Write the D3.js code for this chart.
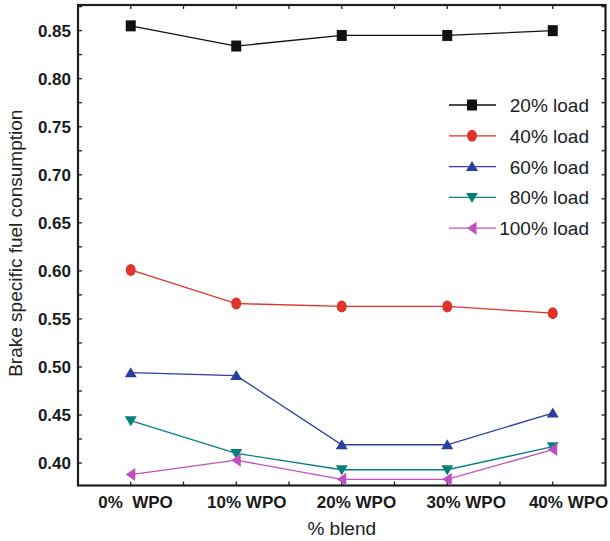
<!DOCTYPE html>
<html>
<head>
<meta charset="utf-8">
<script src="https://cdn.jsdelivr.net/npm/d3@7"></script>
<style>
  body { margin: 0; background: #fff; }
  svg { display: block; font-family: "Liberation Sans", Arial, sans-serif; }
  .tick_lab { font-size: 17px; font-weight: bold; fill: #1a1a1a; }
  .title_lab { font-size: 19px; fill: #222; }
  .leg_lab { font-size: 19px; fill: #222; }
</style>
</head>
<body>
<svg width="610" height="541"></svg>
<script>
/* donnees */
var blends = ["0%  WPO", "10% WPO", "20% WPO", "30% WPO", "40% WPO"]
var blendLabelPos = [0.045, 1.10, 2.14, 3.18, 4.15]   // ou le texte est centre (en unites d'axe)
var loads = ["20% load", "40% load", "60% load", "80% load", "100% load"]

var load20  = [0.855, 0.834, 0.845, 0.845, 0.850]
var load40  = [0.601, 0.566, 0.563, 0.563, 0.556]
var load60  = [0.494, 0.491, 0.419, 0.419, 0.452]
var load80  = [0.444, 0.410, 0.393, 0.393, 0.417]
var load100 = [0.388, 0.403, 0.383, 0.383, 0.414]

var yTicks = [0.40, 0.45, 0.50, 0.55, 0.60, 0.65, 0.70, 0.75, 0.80, 0.85]

var series = [
  {name: loads[0], values: load20,  color: "#111111", marker: "square"},
  {name: loads[1], values: load40,  color: "#e0332a", marker: "circle"},
  {name: loads[2], values: load60,  color: "#2b3f9e", marker: "up"},
  {name: loads[3], values: load80,  color: "#08807a", marker: "down"},
  {name: loads[4], values: load100, color: "#c24fbf", marker: "left"}
]

/* zone du graphique */
var plot_left = 78, plot_right = 605.5, plot_top = 5, plot_bottom = 485.5

var x = d3.scaleLinear().domain([-0.5, 4.5]).range([plot_left, plot_right])
var y = d3.scaleLinear().domain([0.3766, 0.8767]).range([plot_bottom, plot_top])

var svg = d3.select("svg")

/* petits traits des axes (vers l'interieur) */
var xTickVals = d3.range(-0.5, 4.51, 0.5)
var yTickVals = d3.range(0.40, 0.8751, 0.025)

function axis_ticks() {
    var g = svg.append("g").attr("stroke", "#222").attr("stroke-width", 1.3)
    g.selectAll(".tb").data(xTickVals).enter().append("line")
        .attr("x1", function(d){ return x(d) }).attr("x2", function(d){ return x(d) })
        .attr("y1", plot_bottom).attr("y2", plot_bottom - 4)
    g.selectAll(".tt").data(xTickVals).enter().append("line")
        .attr("x1", function(d){ return x(d) }).attr("x2", function(d){ return x(d) })
        .attr("y1", plot_top).attr("y2", plot_top + 4)
    g.selectAll(".tl").data(yTickVals).enter().append("line")
        .attr("x1", plot_left).attr("x2", plot_left + 4)
        .attr("y1", function(d){ return y(d) }).attr("y2", function(d){ return y(d) })
    g.selectAll(".tr").data(yTickVals).enter().append("line")
        .attr("x1", plot_right).attr("x2", plot_right - 4)
        .attr("y1", function(d){ return y(d) }).attr("y2", function(d){ return y(d) })
}
axis_ticks()

/* cadre */
svg.append("rect")
    .attr("x", plot_left).attr("y", plot_top)
    .attr("width", plot_right - plot_left).attr("height", plot_bottom - plot_top)
    .attr("fill", "none").attr("stroke", "#1e1e1e").attr("stroke-width", 2.2)

/* etiquettes des axes */
svg.selectAll(".ylab").data(yTicks).enter().append("text")
    .attr("class", "tick_lab")
    .attr("x", 71).attr("y", function(d){ return y(d) + 6 })
    .attr("text-anchor", "end")
    .text(function(d){ return d.toFixed(2) })

svg.selectAll(".xlab").data(blends).enter().append("text")
    .attr("class", "tick_lab")
    .attr("x", function(d, i){ return x(blendLabelPos[i]) })
    .attr("y", 508)
    .attr("text-anchor", "middle")
    .style("white-space", "pre")
    .text(function(d){ return d })

svg.append("text")
    .attr("class", "title_lab")
    .attr("x", (plot_left + plot_right) / 2).attr("y", 535)
    .attr("text-anchor", "middle")
    .text("% blend")

svg.append("text")
    .attr("class", "title_lab")
    .attr("transform", "translate(21.5," + ((plot_top + plot_bottom) / 2 - 2) + ") rotate(-90)")
    .attr("text-anchor", "middle")
    .text("Brake specific fuel consumption")

/* marqueurs */
function marker_path(type) {
    if (type == "square") return "M-5,-5.5H5V5.5H-5Z"
    if (type == "circle") return "M0,-6A5,6 0 1,1 0,6A5,6 0 1,1 0,-6Z"
    if (type == "up") return "M0,-5.5L6,4.5L-6,4.5Z"
    if (type == "down") return "M0,5.5L6,-4.5L-6,-4.5Z"
    return "M-5,0L4.5,-6.5L4.5,6.5Z"
}

/* courbes */
var line = d3.line()
    .x(function(d, i){ return x(i) })
    .y(function(d){ return y(d) })

var c_series = svg.selectAll(".serie").data(series).enter().append("g")

c_series.append("path")
    .attr("fill", "none")
    .attr("stroke", function(s){ return s.color })
    .attr("stroke-width", 1.3)
    .attr("d", function(s){ return line(s.values) })

c_series.each(function(s) {
    d3.select(this).selectAll("path.mk").data(s.values).enter().append("path")
        .attr("class", "mk")
        .attr("d", marker_path(s.marker))
        .attr("transform", function(d, i){ return "translate(" + x(i) + "," + y(d) + ")" })
        .attr("fill", s.color)
})

/* legende */
var leg_y0 = 105, leg_step = 30.8
var c_leg = svg.selectAll(".leg").data(series).enter().append("g")
    .attr("transform", function(s, i){ return "translate(0," + (leg_y0 + i * leg_step) + ")" })

c_leg.append("line")
    .attr("x1", 449).attr("x2", 496).attr("y1", 0).attr("y2", 0)
    .attr("stroke", function(s){ return s.color }).attr("stroke-width", 1.3)

c_leg.append("path")
    .attr("d", function(s){ return marker_path(s.marker) })
    .attr("transform", "translate(472,0)")
    .attr("fill", function(s){ return s.color })

c_leg.append("text")
    .attr("class", "leg_lab")
    .attr("x", 589).attr("y", 7)
    .attr("text-anchor", "end")
    .text(function(s){ return s.name })
</script>
</body>
</html>
